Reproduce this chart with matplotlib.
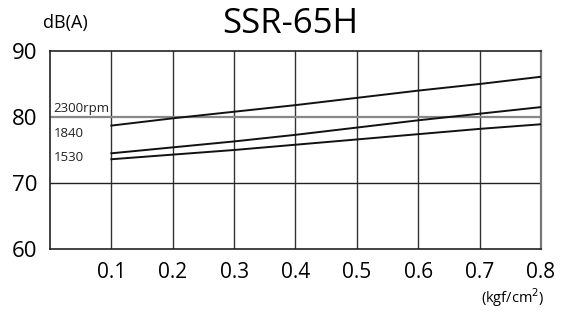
import matplotlib
matplotlib.use("Agg")
import matplotlib.pyplot as plt

# pressure (kgf/cm2)
pressure = [0.1, 0.2, 0.3, 0.4, 0.5, 0.6, 0.7, 0.8]
# noise level dB(A) per speed
rpm_2300 = [78.7, 79.8, 80.8, 81.8, 82.9, 84.0, 85.0, 86.1]
rpm_1840 = [74.5, 75.4, 76.3, 77.3, 78.4, 79.5, 80.5, 81.5]
rpm_1530 = [73.6, 74.3, 75.0, 75.8, 76.6, 77.4, 78.2, 78.9]
series_labels = ["2300rpm", "1840", "1530"]
label_y = [81.3, 77.5, 73.9]

x_ticks = [0.1, 0.2, 0.3, 0.4, 0.5, 0.6, 0.7, 0.8]
y_ticks = [60, 70, 80, 90]

plt.rcParams['font.family'] = ['Open Sans', 'DejaVu Sans']

fig = plt.figure(figsize=(5.72, 3.22), dpi=100)
ax = fig.add_axes([0.0874, 0.2267, 0.8584, 0.6149])

# grid lines
for xv in x_ticks[:-1]:
    ax.axvline(xv, color='#333333', lw=1.0, zorder=1)
ax.axhline(70, color='#222222', lw=1.0, zorder=1)
ax.axhline(80, color='#888888', lw=1.6, zorder=1)

for vals in (rpm_2300, rpm_1840, rpm_1530):
    ax.plot(pressure, vals, color='#111111', lw=1.4, zorder=3)

for lab, yv in zip(series_labels, label_y):
    ax.text(0.006, yv, lab, fontsize=9.5, color='#222222', va='center', ha='left')

ax.set_xlim(0, 0.8)
ax.set_ylim(60, 90)
ax.set_xticks(x_ticks)
ax.set_xticklabels([str(v) for v in x_ticks], fontsize=15)
ax.set_yticks(y_ticks)
ax.set_yticklabels([str(v) for v in y_ticks], fontsize=16)
ax.tick_params(length=0, pad=9)
ax.tick_params(axis='y', pad=9)
for s in ['top', 'left', 'bottom']:
    ax.spines[s].set_color('#222222')
    ax.spines[s].set_linewidth(1.2)
ax.spines['right'].set_color('#777777')
ax.spines['right'].set_linewidth(1.6)

fig.text(0.507, 0.925, "SSR-65H", fontsize=25, ha='center', va='center')
fig.text(0.114, 0.93, "dB(A)", fontsize=13, ha='center', va='center')
fig.text(0.952, 0.075, "(kgf/cm$^2$)", fontsize=10.5, ha='right', va='center')

fig.savefig("out.png", dpi=100)
